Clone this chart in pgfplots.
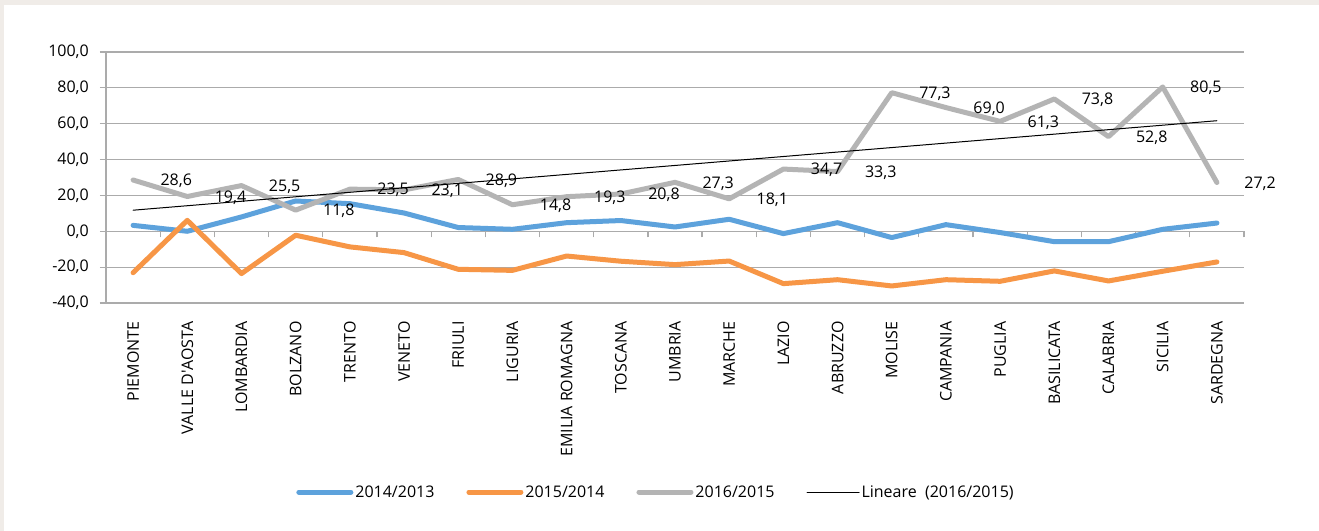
\documentclass[border=0pt]{standalone}
\usepackage{fontspec}
\setmainfont{Open Sans}
\usepackage{pgfplots}
\pgfplotsset{compat=1.18}
\definecolor{bgc}{HTML}{F0ECE8}
\definecolor{gridc}{HTML}{ABABAB}
\definecolor{cblue}{HTML}{5DA2DC}
\definecolor{corange}{HTML}{F79646}
\definecolor{cgray}{HTML}{B4B4B4}

\begin{document}
\begin{tikzpicture}[font=\fontsize{16pt}{19pt}\selectfont]
\useasboundingbox (0,0) rectangle (1319pt,530pt);
\fill[bgc] (-5pt,-5pt) rectangle (1325pt,535pt);
\fill[white] (4pt,-10pt) rectangle (1330pt,525pt);
\begin{axis}[
  at={(106pt,227pt)}, anchor=south west,
  scale only axis, width=1138pt, height=251pt,
  xmin=-0.5, xmax=20.5, ymin=-40, ymax=100,
  axis x line=middle, axis y line=left,
  axis line style={-, draw=gridc, line width=1.2pt},
  tick align=outside,
  xtick={0,...,20},
  xticklabels={PIEMONTE,VALLE D\textquotesingle AOSTA,LOMBARDIA,BOLZANO,TRENTO,VENETO,FRIULI,LIGURIA,EMILIA ROMAGNA,TOSCANA,UMBRIA,MARCHE,LAZIO,ABRUZZO,MOLISE,CAMPANIA,PUGLIA,BASILICATA,CALABRIA,SICILIA,SARDEGNA},
  xticklabel style={rotate=90, anchor=east, inner sep=0pt},
  xticklabel shift=84pt,
  major x tick style={draw=none},
  minor xtick={-0.5,0.5,...,20.5},
  minor x tick style={draw=gridc, line width=1.2pt},
  minor tick length=6pt, major tick length=6pt,
  ytick={-40,-20,...,100},
  ytick style={draw=gridc, line width=1.2pt},
  yticklabel style={inner sep=0pt, xshift=-11pt,
    /pgf/number format/fixed, /pgf/number format/fixed zerofill,
    /pgf/number format/precision=1, /pgf/number format/use comma,
    /pgf/number format/assume math mode=true},
  ymajorgrids, grid style={draw=gridc, line width=1.2pt},
  every axis plot/.append style={line cap=round, line join=round},
  legend style={at={(0.4833,-0.753)}, anchor=center, draw=none, fill=none,
    legend columns=4, /tikz/every even column/.append style={column sep=30pt},
    nodes={inner sep=2pt}},
  legend image code/.code={\draw[#1] (0pt,0pt) -- (52pt,0pt);},
  clip=false,
]
\addplot[cblue, line width=5pt] coordinates {
  (0,3.3) (1,0.0) (2,8.0) (3,16.9) (4,15.4) (5,10.2) (6,2.1) (7,1.1)
  (8,4.8) (9,6.0) (10,2.4) (11,6.7) (12,-1.3) (13,4.8) (14,-3.5)
  (15,3.7) (16,-0.7) (17,-5.8) (18,-5.8) (19,1.1) (20,4.6) };
\addlegendentry{2014/2013}
\addplot[corange, line width=5pt] coordinates {
  (0,-23.1) (1,6.1) (2,-23.6) (3,-2.2) (4,-8.7) (5,-11.9) (6,-21.2) (7,-21.8)
  (8,-13.8) (9,-16.7) (10,-18.6) (11,-16.6) (12,-29.2) (13,-27.0) (14,-30.5)
  (15,-27.0) (16,-27.9) (17,-22.1) (18,-27.7) (19,-22.3) (20,-17.1) };
\addlegendentry{2015/2014}
\addplot[cgray, line width=5pt,
  nodes near coords={\pgfmathprintnumber[fixed,fixed zerofill,precision=1,use comma,assume math mode=true]{\pgfplotspointmeta}},
  point meta=y,
  every node near coord/.append style={anchor=west, xshift=25pt, yshift=-1pt, inner sep=0pt, text=black}] coordinates {
  (0,28.6) (1,19.4) (2,25.5) (3,11.8) (4,23.5) (5,23.1) (6,28.9) (7,14.8)
  (8,19.3) (9,20.8) (10,27.3) (11,18.1) (12,34.7) (13,33.3) (14,77.3)
  (15,69.0) (16,61.3) (17,73.8) (18,52.8) (19,80.5) (20,27.2) };
\addlegendentry{2016/2015}
\addplot[black, line width=1pt] coordinates {(0,11.76) (20,61.67)};
\addlegendentry{Lineare\ \ (2016/2015)}
\end{axis}
\end{tikzpicture}
\end{document}
